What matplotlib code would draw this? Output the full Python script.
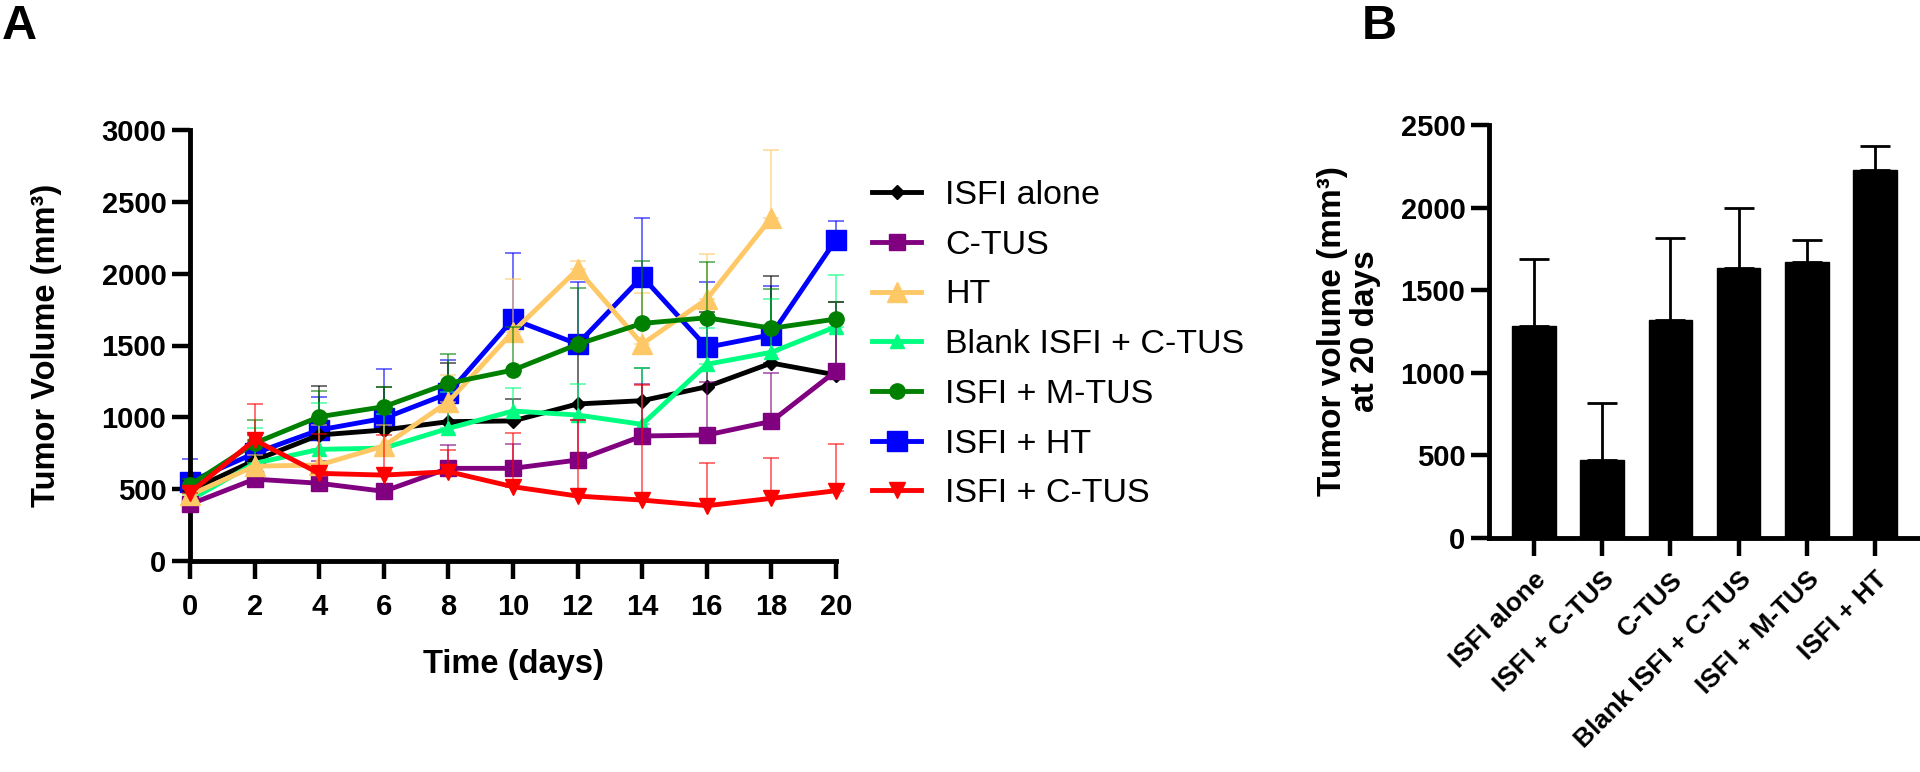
import numpy as np
import matplotlib
matplotlib.use("Agg")
import matplotlib.pyplot as plt

plt.rcParams['font.family'] = ['Liberation Sans', 'DejaVu Sans']

# 데이터
days = [0, 2, 4, 6, 8, 10, 12, 14, 16, 18, 20]

series_names = ["ISFI alone", "C-TUS", "HT", "Blank ISFI + C-TUS",
                "ISFI + M-TUS", "ISFI + HT", "ISFI + C-TUS"]

isfi_alone = [490, 700, 877, 912, 970, 975, 1093, 1116, 1213, 1378, 1295]
isfi_alone_err = [70, 110, 340, 300, 405, 150, 450, 225, 518, 608, 510]

c_tus = [395, 570, 541, 485, 645, 645, 703, 870, 877, 972, 1322]
c_tus_err = [40, 60, 157, 115, 162, 170, 278, 360, 371, 334, 483]

ht = [460, 660, 668, 800, 1109, 1596, 2030, 1510, 1823, 2390, np.nan]
ht_err = [50, 80, 278, 150, 186, 366, 60, 353, 312, 471, np.nan]

blank_c_tus = [424, 680, 777, 786, 923, 1044, 1016, 951, 1369, 1453, 1631]
blank_c_tus_err = [40, 243, 320, 235, 250, 160, 216, 390, 251, 371, 360]

isfi_m_tus = [529, 820, 1004, 1074, 1237, 1329, 1508, 1654, 1693, 1620, 1684]
isfi_m_tus_err = [40, 161, 181, 140, 201, 300, 390, 436, 385, 273, 121]

isfi_ht = [552, 750, 912, 993, 1167, 1682, 1510, 1979, 1487, 1575, 2237]
isfi_ht_err = [158, 127, 227, 343, 232, 459, 434, 406, 457, 341, 132]

isfi_c_tus = [475, 842, 610, 598, 622, 517, 452, 424, 385, 436, 489]
isfi_c_tus_err = [30, 251, 274, 279, 150, 372, 530, 800, 299, 283, 325]

# 패널 B
bar_labels = ["ISFI alone", "ISFI + C-TUS", "C-TUS", "Blank ISFI + C-TUS",
              "ISFI + M-TUS", "ISFI + HT"]
bar_values = [1285, 470, 1320, 1632, 1672, 2225]
bar_err = [405, 350, 495, 368, 133, 147]

# 스타일
styles = [
    dict(color="black", marker="D", ms=7, z=3),
    dict(color="#800080", marker="s", ms=11, z=5),
    dict(color="#FFC866", marker="^", ms=14, z=6),
    dict(color="#00FF80", marker="^", ms=10, z=4),
    dict(color="#008000", marker="o", ms=11, z=7),
    dict(color="#0000FF", marker="s", ms=15, z=2),
    dict(color="#FF0000", marker="v", ms=11, z=8),
]
all_means = [isfi_alone, c_tus, ht, blank_c_tus, isfi_m_tus, isfi_ht, isfi_c_tus]
all_errs = [isfi_alone_err, c_tus_err, ht_err, blank_c_tus_err,
            isfi_m_tus_err, isfi_ht_err, isfi_c_tus_err]

fig = plt.figure(figsize=(19.2, 7.72), dpi=100)
axA = fig.add_axes([190/1920, 1-561/772, 646/1920, 431/772])
axB = fig.add_axes([1489/1920, 1-538/772, 429/1920, 413/772])

TICK_FS = 21
LABEL_FS = 23.5

# ✅ 패널 A
handles = []
for name, mean, err, st in zip(series_names, all_means, all_errs, styles):
    mean = np.array(mean, dtype=float)
    err = np.array(err, dtype=float)
    axA.errorbar(days, mean, yerr=[np.zeros_like(err), err], fmt='none',
                 ecolor=st["color"], elinewidth=1.3, capsize=6, capthick=1.3,
                 alpha=0.6, zorder=st["z"] - 0.5, clip_on=False)
    h, = axA.plot(days, mean, color=st["color"], marker=st["marker"],
                  ms=st["ms"], lw=3.5, label=name, zorder=st["z"], clip_on=False)
    handles.append(h)

axA.set_xlim(0, 20)
axA.set_ylim(0, 3000)
axA.set_xticks(days)
axA.set_yticks(range(0, 3001, 500))
axA.set_xlabel("Time (days)", fontsize=LABEL_FS, fontweight="bold", labelpad=20)
axA.set_ylabel("Tumor Volume (mm³)", fontsize=LABEL_FS, fontweight="bold", labelpad=28)

leg = fig.legend(handles=handles, loc="upper left",
                 bbox_to_anchor=(872/1920, 1-180/772), frameon=False,
                 fontsize=24.5, borderpad=0, borderaxespad=0, handlelength=1.45,
                 handletextpad=0.7, labelspacing=0.55)

# ✅ 패널 B
x = np.arange(len(bar_labels))
axB.bar(x, bar_values, width=0.64, color="black", edgecolor="black", zorder=2)
axB.errorbar(x, bar_values, yerr=[np.zeros(len(bar_err)), bar_err], fmt='none',
             ecolor="black", elinewidth=2, capsize=11, capthick=2, zorder=1)
axB.set_xlim(-0.66, 5.63)
axB.set_ylim(0, 2500)
axB.set_yticks(range(0, 2501, 500))
axB.set_xticks(x)
axB.set_xticklabels(bar_labels, rotation=45, ha="right", va="top",
                    rotation_mode="anchor", fontsize=19, fontweight="bold")
axB.set_ylabel("Tumor volume (mm³)\nat 20 days", fontsize=24,
               fontweight="bold", labelpad=14, linespacing=1.1)

for ax in (axA, axB):
    for s in ("top", "right"):
        ax.spines[s].set_visible(False)
    for s in ("left", "bottom"):
        ax.spines[s].set_linewidth(3.5)
    ax.tick_params(width=3.2, length=13, pad=4)
    for lab in ax.get_yticklabels():
        lab.set_fontsize(TICK_FS)
        lab.set_fontweight("bold")

for lab in axA.get_xticklabels():
    lab.set_fontsize(TICK_FS)
    lab.set_fontweight("bold")
axA.tick_params(axis="x", pad=10)
axB.tick_params(axis="x", pad=8)

fig.text(2/1920, 1-4/772, "A", fontsize=35, fontweight="bold", va="top", ha="left")
fig.text(1362/1920, 1-4/772, "B", fontsize=35, fontweight="bold", va="top", ha="left")

fig.savefig("out.png", dpi=100)
